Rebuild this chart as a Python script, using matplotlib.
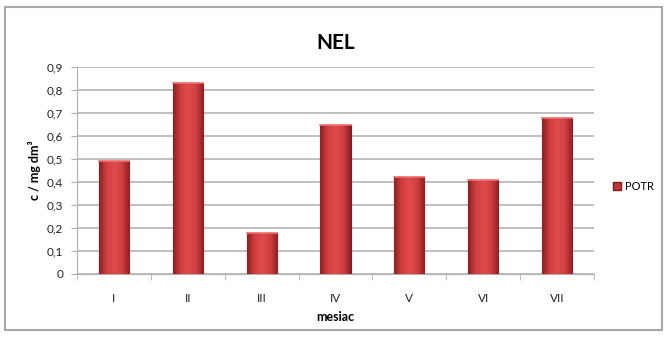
import matplotlib
matplotlib.use('Agg')
import matplotlib.pyplot as plt
import matplotlib.patches as mpatches
import numpy as np

plt.rcParams['font.family'] = ['Lato', 'DejaVu Sans']

# Monatswerte
mesiace = ['I', 'II', 'III', 'IV', 'V', 'VI', 'VII']
potr = [0.49, 0.83, 0.18, 0.65, 0.42, 0.41, 0.68]
y_ticks = [0, 0.1, 0.2, 0.3, 0.4, 0.5, 0.6, 0.7, 0.8, 0.9]

fig = plt.figure(figsize=(6.67, 3.38), dpi=100)
fig.patch.set_facecolor('white')

# Rahmen um das ganze Diagramm
frame = mpatches.Rectangle((5 / 667, 1 - 330 / 338), 657 / 667, 323 / 338,
                           transform=fig.transFigure, fill=False,
                           edgecolor='#a8a8a8', linewidth=1.5)
fig.patches.append(frame)

ax = fig.add_axes([77 / 667, 1 - 274 / 338, 517 / 667, 207 / 338])
x = np.arange(len(mesiace))
bars = ax.bar(x, potr, width=0.41, color='#c0363a', edgecolor='#7a1c1e',
              linewidth=0.8, zorder=3)

# horizontaler Farbverlauf in den Balken
grad = np.linspace(0, 1, 64)
grad = 1 - np.abs(grad - 0.5) * 2
cmap = matplotlib.colors.LinearSegmentedColormap.from_list(
    'rot', ['#8e1f22', '#d03e40', '#e04c4e'])
for bar in bars:
    x0, w, h = bar.get_x(), bar.get_width(), bar.get_height()
    im = ax.imshow(grad[np.newaxis, :], cmap=cmap, aspect='auto',
                   extent=(x0, x0 + w, 0, h), zorder=3.5)
    im.set_clip_path(bar)
    # helle Oberkante
    ax.plot([x0, x0 + w], [h, h], color='#f07070', linewidth=1.2, zorder=4)

ax.set_xlim(-0.5, len(mesiace) - 0.5)
ax.set_ylim(0, 0.9)
ax.set_yticks(y_ticks)
ax.set_yticklabels([f'{v:g}'.replace('.', ',') for v in y_ticks], fontsize=8.5)
ax.set_xticks(x)
ax.set_xticklabels(mesiace, fontsize=8.5)
ax.set_xticks(np.arange(-0.5, len(mesiace)), minor=True)
ax.tick_params(axis='x', which='major', length=0, pad=14, colors='#222222')
ax.tick_params(axis='x', which='minor', length=4, color='#b0b0b0')
ax.tick_params(axis='y', length=4, pad=6, colors='#222222')
ax.tick_params(axis='y', color='#b0b0b0')

ax.grid(axis='y', color='#b4b4b4', linewidth=1.2, zorder=0)
ax.set_axisbelow(True)
for side in ['top', 'right']:
    ax.spines[side].set_visible(False)
for side in ['left', 'bottom']:
    ax.spines[side].set_color('#b0b0b0')

ax.set_title('NEL', fontsize=15, fontweight='bold', pad=13)
ax.set_xlabel('mesiac', fontsize=9, fontweight='bold', labelpad=5)
ax.set_ylabel('c / mg dm³', fontsize=9, fontweight='bold', labelpad=4)

legend_elements = [mpatches.Patch(facecolor='#c0363a', edgecolor='#7a1c1e',
                                  label='POTR')]
fig.legend(handles=legend_elements, loc='center left',
           bbox_to_anchor=(603 / 667, 1 - 186 / 338), fontsize=8,
           frameon=False, handlelength=0.7, handleheight=0.7,
           handletextpad=0.4)

fig.savefig('out.png', dpi=100)
plt.close(fig)
